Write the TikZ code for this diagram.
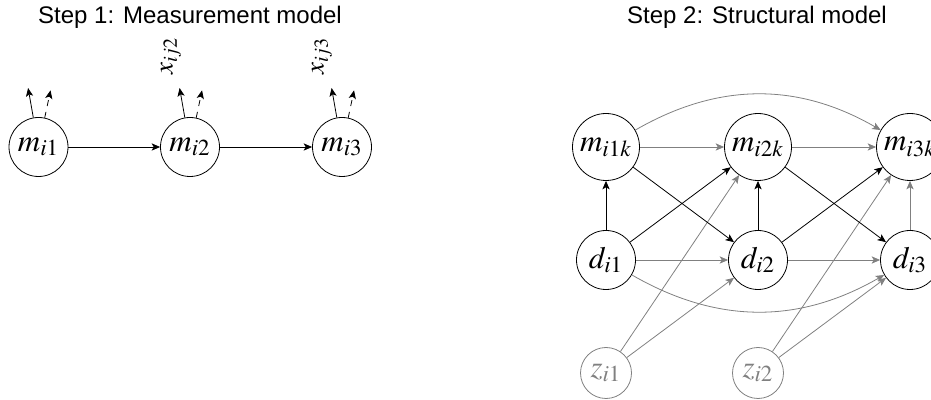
\documentclass[tikz,border=0pt]{standalone}
\usepackage{mathptmx}
\usepackage{fontspec}
\setsansfont{Liberation Sans}
\usetikzlibrary{arrows.meta,calc}
\tikzset{
  mfont/.style={font=\fontsize{15.5}{18}\selectfont},
  lat/.style={circle,draw,minimum size=29.5pt,inner sep=0pt,mfont},
  latk/.style={circle,draw,minimum size=33.5pt,inner sep=0pt,mfont},
  obs/.style={circle,draw=gray,text=gray,minimum size=25.5pt,inner sep=0pt,mfont},
  ttl/.style={font=\sffamily\large},
  ind/.style={font=\fontsize{13.5}{16}\selectfont,rotate=90},
  barr/.style={->},
  garr/.style={->,gray},
}
\begin{document}
\begin{tikzpicture}[x=0.5pt,y=-0.5pt,>={Stealth[length=4.2pt,width=3.6pt,inset=1pt]}]
\useasboundingbox (0,0) rectangle (931,400);
% Step 1
\node[ttl] (t1) at (190,17) {Step 1: Measurement model};
\node[lat] (m1) at (38.5,147) {$m_{i1}$};
\node[lat] (m2) at (190,147) {$m_{i2}$};
\node[lat] (m3) at (342,147) {$m_{i3}$};
\draw[barr] (m1) -- (m2);
\draw[barr] (m2) -- (m3);
\foreach \m in {m1,m2,m3}{
  \path (\m.100) ++(100:15pt) coordinate (\m a);
  \path (\m.78) ++(78:14pt) coordinate (\m b);
  \draw[->] (\m.100) -- (\m a);
  \draw[->,dashed] (\m.78) -- (\m b);
}
\node[ind] (x2) at (171,56) {$x_{ij2}$};
\node[ind] (x3) at (322,56) {$x_{ij3}$};
% Step 2
\node[ttl] (t2) at (757,17) {Step 2: Structural model};
\node[latk] (k1) at (606,147) {$m_{i1k}$};
\node[latk] (k2) at (758,147) {$m_{i2k}$};
\node[latk] (k3) at (910,147) {$m_{i3k}$};
\node[lat] (d1) at (606,260) {$d_{i1}$};
\node[lat] (d2) at (758,260) {$d_{i2}$};
\node[lat] (d3) at (910,260) {$d_{i3}$};
\node[obs] (z1) at (606,373) {$z_{i1}$};
\node[obs] (z2) at (758,373) {$z_{i2}$};
% gray paths
\draw[garr] (k1) -- (k2);
\draw[garr] (k2) -- (k3);
\draw[garr] (k1) to[bend left=30] (k3);
\draw[garr] (d1) -- (d2);
\draw[garr] (d2) -- (d3);
\draw[garr] (d1) to[bend right=30] (d3);
\draw[garr] (z1) -- (k2);
\draw[garr] (z1) -- (d2);
\draw[garr] (z2) -- (k3);
\draw[garr] (z2) -- (d3);
\draw[garr] (d3) -- (k3);
% black paths
\draw[barr] (d1) -- (k1);
\draw[barr] (d2) -- (k2);
\draw[barr] (d1) -- (k2);
\draw[barr] (k1) -- (d2);
\draw[barr] (d2) -- (k3);
\draw[barr] (k2) -- (d3);
\end{tikzpicture}
\end{document}
